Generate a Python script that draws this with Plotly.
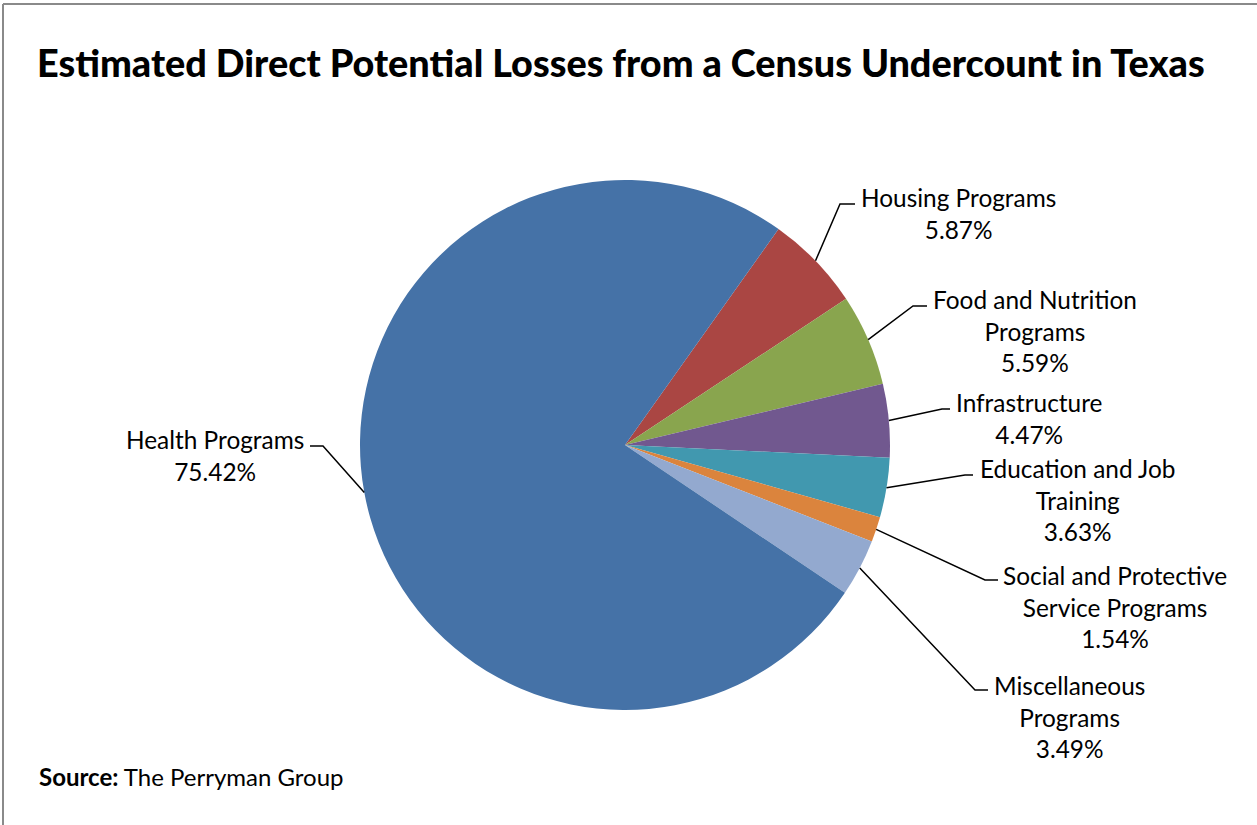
import math
import plotly.graph_objects as go

# ---------------- data ----------------
categories = ["Housing Programs", "Food and Nutrition Programs", "Infrastructure",
              "Education and Job Training", "Social and Protective Service Programs",
              "Miscellaneous Programs", "Health Programs"]
label_lines = ["Housing Programs", "Food and Nutrition<br>Programs", "Infrastructure",
               "Education and Job<br>Training", "Social and Protective<br>Service Programs",
               "Miscellaneous<br>Programs", "Health Programs"]
shares = [5.87, 5.59, 4.47, 3.63, 1.54, 3.49, 75.42]
colors = ["#AA4643", "#89A54E", "#71588F", "#4198AF", "#DB843D", "#93A9CF", "#4572A7"]

title_text = "Estimated Direct Potential Losses from a Census Undercount in Texas"
source_text = "<b>Source:</b> The Perryman Group"

# ---------------- layout (pixels) ----------------
W, H = 1257, 825
CX, CY, R = 625, 445, 265
ROTATION = 35.4
# label layout: elbow point, end of horizontal tick, text anchor x, text block centre y, side
label_layout = [
    (840, 204, 855, 859, 213, "left"),
    (913, 306, 927, 931, 331, "left"),
    (942, 409, 950, 954, 418, "left"),
    (965, 475, 973, 978, 500, "left"),
    (985, 580, 998, 1001, 607, "left"),
    (975, 690, 988, 992, 717, "left"),
    (323, 446, 310, 306, 455, "right"),
]

def px(x):
    return x / W

def py(y):
    return 1 - y / H

fig = go.Figure()
fig.add_trace(go.Pie(
    labels=categories, values=shares, sort=False, direction="clockwise",
    rotation=ROTATION, textinfo="none", hoverinfo="label+percent",
    marker=dict(colors=colors, line=dict(width=0)),
    domain=dict(x=[px(CX - R), px(CX + R)], y=[py(CY + R), py(CY - R)]),
    showlegend=False,
))

shapes = []
annotations = []
total = sum(shares)
angle = ROTATION
font_lbl = dict(family="Lato", size=24.4, color="#000000")
for v, txt, (ex, ey, hx, tx, ty, side) in zip(shares, label_lines, label_layout):
    span = v / total * 360
    mid = math.radians(angle + span / 2)
    angle += span
    sx = CX + R * math.sin(mid)
    sy = CY - R * math.cos(mid)
    path = f"M {px(sx)} {py(sy)} L {px(ex)} {py(ey)} L {px(hx)} {py(ey)}"
    shapes.append(dict(type="path", path=path, xref="paper", yref="paper",
                       line=dict(color="#000000", width=1.5)))
    annotations.append(dict(
        text=f"{txt}<br>{v:.2f}%", x=px(tx), y=py(ty), xref="paper", yref="paper",
        xanchor=side, yanchor="middle", align="center", showarrow=False, font=font_lbl,
    ))

annotations.append(dict(text=title_text, x=px(621), y=py(62), xref="paper", yref="paper",
                        xanchor="center", yanchor="middle", showarrow=False,
                        font=dict(family="Lato", size=37.8, color="#000000", weight=900)))
annotations.append(dict(text=source_text, x=px(37), y=py(776), xref="paper", yref="paper",
                        xanchor="left", yanchor="middle", showarrow=False,
                        font=dict(family="Lato", size=24, color="#000000")))

# chart border (top and left visible)
shapes.append(dict(type="line", xref="paper", yref="paper", x0=px(3), x1=1, y0=py(4), y1=py(4),
                   line=dict(color="#8a8a8a", width=2)))
shapes.append(dict(type="line", xref="paper", yref="paper", x0=px(3), x1=px(3), y0=py(4), y1=0,
                   line=dict(color="#8a8a8a", width=2)))

fig.update_layout(
    width=W, height=H, margin=dict(l=0, r=0, t=0, b=0),
    paper_bgcolor="white", plot_bgcolor="white",
    shapes=shapes, annotations=annotations,
)
fig.write_html("out.html")
